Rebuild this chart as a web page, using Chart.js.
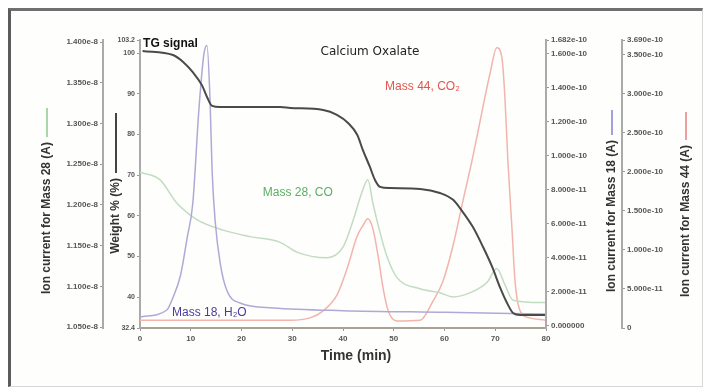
<!DOCTYPE html>
<html>
<head>
<meta charset="utf-8">
<script src="https://cdn.jsdelivr.net/npm/chart.js@4.4.0/dist/chart.umd.min.js"></script>
<style>
    html, body { margin: 0; padding: 0; background: #ffffff; }
    #moldura {
        position: absolute; left: 8px; top: 8px; width: 691px; height: 375px;
        border-top: 3px solid #707070; border-left: 3px solid #5c5c5c;
        border-right: 1px solid #d8d8d8; border-bottom: 1px solid #d8d8d8;
        background: #fefefc;
    }
    #caixa { position: absolute; left: 0; top: 0; width: 705px; height: 389px; }
</style>
</head>
<body>
<div id="moldura"></div>
<div id="caixa"><canvas id="graficoTG"></canvas></div>
<script>
// TG signal (weight %) vs time (min)
const tempoTG = [0.5, 6.5, 8.5, 10.4, 12.2, 13.2, 14.2, 15.8, 27.6, 29.6, 36.1, 38.8, 41.0, 42.8, 43.9, 45.3, 46.3, 47.3, 49.3, 55.2, 59.1, 61.7, 63.6, 65.6, 67.6, 69.4, 70.9, 72.3, 73.5, 74.9, 79.8];
const pesoTG = [100.5, 99.5, 97.8, 95.3, 92.1, 89.2, 87.0, 86.7, 86.7, 86.5, 86.0, 84.8, 82.8, 79.9, 76.2, 72.0, 68.8, 67.1, 66.8, 66.6, 65.6, 63.9, 60.9, 57.2, 52.3, 47.4, 42.5, 38.6, 36.1, 35.6, 35.6];

// Mass 18 ion current (x 1e-10 A)
const tempoM18 = [0, 5.3, 6.3, 8.0, 9.3, 10.4, 11.6, 12.6, 13.2, 13.8, 14.2, 14.8, 15.8, 17.1, 19.7, 26.2, 40, 60, 79.8];
const correnteM18 = [0.053, 0.094, 0.153, 0.30, 0.52, 0.72, 1.27, 1.60, 1.65, 1.33, 0.92, 0.62, 0.37, 0.21, 0.135, 0.106, 0.09, 0.08, 0.07];

// Mass 28 ion current (x 1e-8 A)
const tempoM28 = [0, 3.9, 7.3, 11.2, 16.4, 21.7, 27.6, 30.9, 36.8, 40.0, 42.0, 43.7, 44.9, 45.9, 47.3, 48.7, 50.6, 55.2, 59.1, 61.7, 65.0, 68.4, 70.3, 71.9, 73.5, 79.8];
const correnteM28 = [1.240, 1.231, 1.202, 1.182, 1.169, 1.161, 1.154, 1.142, 1.135, 1.148, 1.181, 1.215, 1.231, 1.202, 1.166, 1.136, 1.111, 1.097, 1.092, 1.087, 1.092, 1.105, 1.122, 1.102, 1.083, 1.080];

// Mass 44 ion current (x 1e-10 A)
const tempoM44 = [0, 29.6, 33.5, 36.1, 38.8, 40.8, 42.8, 43.9, 44.9, 45.9, 46.9, 47.9, 48.9, 50.6, 55.2, 57.7, 59.7, 61.7, 63.6, 65.6, 67.6, 69.0, 70.3, 71.3, 71.9, 72.5, 73.3, 73.9, 74.9, 76.8, 79.8];
const correnteM44 = [0.10, 0.10, 0.13, 0.22, 0.42, 0.76, 1.18, 1.31, 1.40, 1.27, 0.93, 0.51, 0.22, 0.09, 0.10, 0.34, 0.60, 1.06, 1.62, 2.20, 2.84, 3.27, 3.59, 3.47, 2.96, 2.13, 1.27, 0.60, 0.22, 0.13, 0.10];

// tick values and labels
const ticksTempo = [0, 10, 20, 30, 40, 50, 60, 70, 80];
const ticksM28 = [1.05, 1.10, 1.15, 1.20, 1.25, 1.30, 1.35, 1.40];
const rotulosM28 = ['1.050e-8', '1.100e-8', '1.150e-8', '1.200e-8', '1.250e-8', '1.300e-8', '1.350e-8', '1.400e-8'];
const ticksPeso = [32.4, 40, 50, 60, 70, 80, 90, 100, 103.2];
const rotulosPeso = ['32.4', '40', '50', '60', '70', '80', '90', '100', '103.2'];
const ticksM18 = [0, 0.2, 0.4, 0.6, 0.8, 1.0, 1.2, 1.4, 1.6, 1.682];
const rotulosM18 = ['0.000000', '2.000e-11', '4.000e-11', '6.000e-11', '8.000e-11', '1.000e-10', '1.200e-10', '1.400e-10', '1.600e-10', '1.682e-10'];
const ticksM44 = [0, 0.5, 1.0, 1.5, 2.0, 2.5, 3.0, 3.5, 3.69];
const rotulosM44 = ['0', '5.000e-11', '1.000e-10', '1.500e-10', '2.000e-10', '2.500e-10', '3.000e-10', '3.500e-10', '3.690e-10'];

const fonteRotulo = 'Liberation Sans, Arial, sans-serif';

function pares(xs, ys) {
    return xs.map((x, i) => ({ x: x, y: ys[i] }));
}

function eixoY(posicao, peso, min, max, valores, rotulos, largura, tamanhoFonte) {
    return {
        type: 'linear',
        position: posicao,
        weight: peso,
        min: min,
        max: max,
        afterBuildTicks: (escala) => { escala.ticks = valores.map(v => ({ value: v })); },
        afterFit: (escala) => { escala.width = largura; },
        ticks: {
            autoSkip: false,
            padding: 2,
            color: '#555',
            font: { family: fonteRotulo, size: tamanhoFonte, weight: 'bold' },
            callback: (valor, indice) => rotulos[indice]
        },
        grid: { drawOnChartArea: false, drawTicks: true, tickLength: 3, color: '#999' },
        border: { display: true, color: '#aaa', width: 2 }
    };
}

// axis titles with the line sample drawn above them
const titulosEixos = [
    { texto: 'Ion current for Mass 28 (A)', x: 47, topoLinha: 108, fimLinha: 137, cor: '#a8d8a8' },
    { texto: 'Weight % (%)', x: 116, topoLinha: 113, fimLinha: 173, cor: '#444' },
    { texto: 'Ion current for Mass 18 (A)', x: 612, topoLinha: 110, fimLinha: 135, cor: '#a4a0dc' },
    { texto: 'Ion current for Mass 44 (A)', x: 686, topoLinha: 112, fimLinha: 140, cor: '#eea0a0' }
];

// notes written inside the plot (time, weight %)
const notas = [
    { texto: 'TG signal', t: 0.6, p: 102.4, cor: '#111', fonte: 'bold 12px ' + fonteRotulo, alinha: 'left' },
    { texto: 'Calcium Oxalate', t: 45.3, p: 100.2, cor: '#222', fonte: '12px DejaVu Sans, sans-serif', alinha: 'center' },
    { texto: 'Mass 44, CO\u2082', t: 48.3, p: 91.8, cor: '#e0564e', fonte: '12px ' + fonteRotulo, alinha: 'left' },
    { texto: 'Mass 28, CO', t: 24.2, p: 65.6, cor: '#5cae62', fonte: '12px ' + fonteRotulo, alinha: 'left' },
    { texto: 'Mass 18, H\u2082O', t: 6.3, p: 36.1, cor: '#4a3c9e', fonte: '12px ' + fonteRotulo, alinha: 'left' }
];

const decoracao = {
    id: 'decoracao',
    afterDraw(grafico) {
        const ctx = grafico.ctx;
        ctx.save();
        titulosEixos.forEach(t => {
            ctx.strokeStyle = t.cor;
            ctx.lineWidth = 2;
            ctx.beginPath();
            ctx.moveTo(t.x, t.topoLinha);
            ctx.lineTo(t.x, t.fimLinha);
            ctx.stroke();
            ctx.save();
            ctx.translate(t.x, t.fimLinha + 5);
            ctx.rotate(-Math.PI / 2);
            ctx.fillStyle = '#333';
            ctx.font = 'bold 12px ' + fonteRotulo;
            ctx.textAlign = 'right';
            ctx.textBaseline = 'middle';
            ctx.fillText(t.texto, 0, 0);
            ctx.restore();
        });
        // x axis title, a bit right of centre as in the original
        ctx.fillStyle = '#333';
        ctx.font = 'bold 14px ' + fonteRotulo;
        ctx.textAlign = 'center';
        ctx.textBaseline = 'middle';
        ctx.fillText('Time (min)', 356, 356);

        const escX = grafico.scales.x;
        const escP = grafico.scales.yPeso;
        notas.forEach(n => {
            ctx.fillStyle = n.cor;
            ctx.font = n.fonte;
            ctx.textAlign = n.alinha;
            ctx.textBaseline = 'middle';
            ctx.fillText(n.texto, escX.getPixelForValue(n.t), escP.getPixelForValue(n.p));
        });
        ctx.restore();
    }
};

const graficoTG = new Chart(document.getElementById('graficoTG'), {
    type: 'line',
    data: {
        datasets: [
            { label: 'TG signal', data: pares(tempoTG, pesoTG), yAxisID: 'yPeso', borderColor: '#4a4a4a', borderWidth: 2 },
            { label: 'Mass 18', data: pares(tempoM18, correnteM18), yAxisID: 'yM18', borderColor: '#aeaad8', borderWidth: 1.5 },
            { label: 'Mass 28', data: pares(tempoM28, correnteM28), yAxisID: 'yM28', borderColor: '#c2dcc2', borderWidth: 1.5 },
            { label: 'Mass 44', data: pares(tempoM44, correnteM44), yAxisID: 'yM44', borderColor: '#f2b4ac', borderWidth: 1.5 }
        ]
    },
    options: {
        responsive: true,
        maintainAspectRatio: false,
        animation: false,
        elements: {
            point: { radius: 0 },
            line: { cubicInterpolationMode: 'monotone', fill: false }
        },
        layout: { padding: { left: 30, right: 5, top: 40, bottom: 16 } },
        plugins: { legend: { display: false }, tooltip: { enabled: false } },
        scales: {
            x: {
                type: 'linear',
                position: 'bottom',
                min: 0,
                max: 80,
                afterBuildTicks: (escala) => { escala.ticks = ticksTempo.map(v => ({ value: v })); },
                afterFit: (escala) => { escala.height = 45; },
                ticks: { color: '#555', padding: 3, font: { family: fonteRotulo, size: 8, weight: 'bold' } },
                grid: { drawOnChartArea: false, drawTicks: true, tickLength: 3, color: '#999' },
                border: { display: true, color: '#a8a296', width: 2 }
            },
            yM28: eixoY('left', 1, 1.0488, 1.4025, ticksM28, rotulosM28, 73, 8),
            yPeso: eixoY('left', 0, 32.4, 103.2, ticksPeso, rotulosPeso, 37, 7),
            yM18: eixoY('right', 0, -0.012, 1.682, ticksM18, rotulosM18, 76, 8),
            yM44: eixoY('right', 1, 0, 3.69, ticksM44, rotulosM44, 78, 8)
        }
    },
    plugins: [decoracao]
});
</script>
</body>
</html>
